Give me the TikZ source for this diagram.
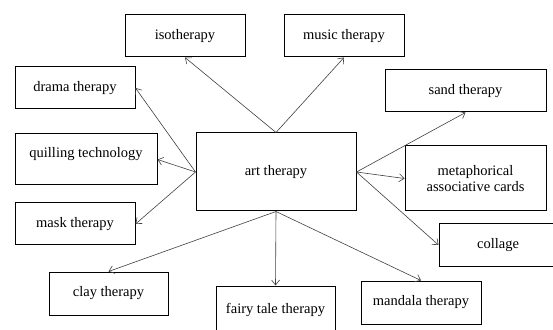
\documentclass[tikz,border=0pt]{standalone}
\usepackage{fontspec}
\setmainfont{Liberation Serif}
\usetikzlibrary{arrows.meta}

\tikzset{
	tbox/.style={draw, line width=1pt, inner sep=0pt, align=center,
		font=\fontsize{14.5}{15.5}\selectfont},
	link/.style={-{Straight Barb[length=5pt, width=8pt]}, draw=black!75, line width=0.6pt}
}

\begin{document}
\begin{tikzpicture}[x=1pt, y=1pt]
		\useasboundingbox (0,0) rectangle (553,329);
		
		\node[tbox, minimum width=160, minimum height=78] (art) at (276, 157) {art therapy};
		
		\node[tbox, minimum width=120, minimum height=42] (iso) at (185, 293) {isotherapy};
		\node[tbox, minimum width=120, minimum height=42] (music) at (344, 293) {music therapy};
		\node[tbox, minimum width=120, minimum height=42] (drama) at (75, 241) {drama therapy};
		\node[tbox, minimum width=142, minimum height=51, text depth=15pt] (quill) at (86, 169.5) {quilling technology};
		\node[tbox, minimum width=120, minimum height=42] (mask) at (75, 105) {mask therapy};
		\node[tbox, minimum width=119, minimum height=43] (clay) at (108.5, 35.5) {clay therapy};
		\node[tbox, minimum width=119, minimum height=48] (fairy) at (275.5, 19) {fairy tale therapy};
		\node[tbox, minimum width=120, minimum height=43] (mandala) at (421, 26.5) {mandala therapy};
		\node[tbox, minimum width=161, minimum height=42] (sand) at (465.5, 238) {sand therapy};
		\node[tbox, minimum width=141, minimum height=65] (meta) at (475.5, 150.5) {metaphorical\\associative cards};
		\node[tbox, minimum width=118, minimum height=42] (collage) at (498, 84) {collage};
		
		%\fill (art.north) circle (2pt);
		
		\foreach \s/\t in {north/iso.south, north/music.south,
			west/drama.east, west/quill.east, west/mask.east,
			south/clay.north, south/fairy.north, south/mandala.north,
			east/sand.south, east/meta.west, east/collage.west} {
			\draw[link] (art.\s) -- (\t);
		}
	
	\end{tikzpicture}
\end{document}
